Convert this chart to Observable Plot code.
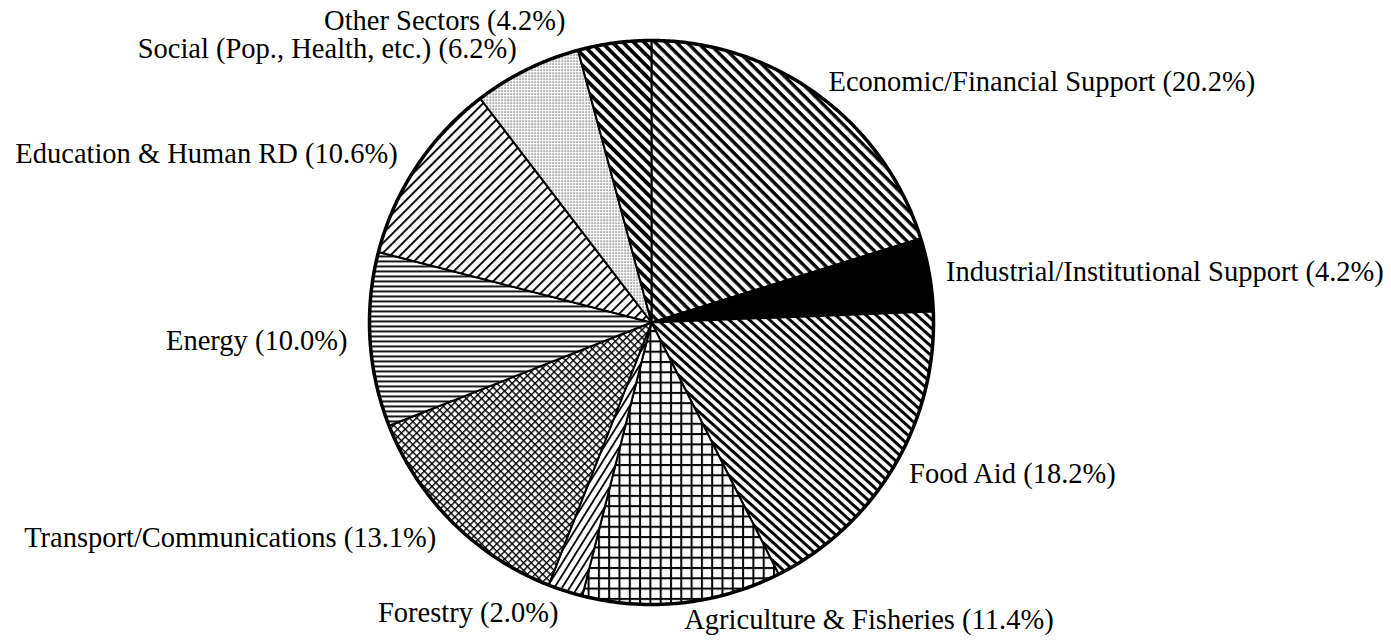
<!DOCTYPE html>
<html><head><meta charset="utf-8">
<script src="https://cdn.jsdelivr.net/npm/d3@7"></script>
<script src="https://cdn.jsdelivr.net/npm/@observablehq/plot@0.6"></script>
<style>html,body{margin:0;padding:0;background:#fff;overflow:hidden}</style>
</head><body><div id="chart"></div>
<script>
// ---- data ----
const sectors = ["Economic/Financial Support", "Industrial/Institutional Support", "Food Aid",
  "Agriculture & Fisheries", "Forestry", "Transport/Communications", "Energy",
  "Education & Human RD", "Social (Pop., Health, etc.)", "Other Sectors"];
const shares = [20.2, 4.2, 18.2, 11.4, 2.0, 13.1, 10.0, 10.6, 6.2, 4.2];
const fills = ["url(#pEcon)", "black", "url(#pFood)", "url(#pGrid)", "url(#pForest)",
  "url(#pCross)", "url(#pHoriz)", "url(#pEdu)", "url(#pDots)", "url(#pOther)"];

// ---- layout ----
const W = 1391, H = 643, cx = 651, cy = 322, R = 282;
const total = d3.sum(shares);
let acc = 0;
const slices = sectors.map((name, i) => {
  const a0 = acc / total * 2 * Math.PI;
  acc += shares[i];
  const a1 = acc / total * 2 * Math.PI;
  return {name, share: shares[i], a0, a1, mid: (a0 + a1) / 2, fill: fills[i],
    label: `${name} (${shares[i].toFixed(1)}%)`};
});
function slicePoints(s) {
  const n = Math.max(2, Math.ceil((s.a1 - s.a0) / (Math.PI / 360)));
  const pts = [{x: 0, y: 0}];
  for (let k = 0; k <= n; k++) {
    const a = s.a0 + (s.a1 - s.a0) * k / n;
    pts.push({x: Math.sin(a), y: Math.cos(a)});
  }
  pts.push({x: 0, y: 0});
  return pts;
}
const circle = d3.range(0, 721).map(k => ({x: Math.sin(k * Math.PI / 360), y: Math.cos(k * Math.PI / 360)}));
const labels = slices.map(s => {
  const LR = Math.sin(s.mid) >= 0 ? 1.06 : 1.08;
  return {...s, lx: LR * Math.sin(s.mid), ly: LR * Math.cos(s.mid)};
});
const font = {fontSize: 28.5, fontFamily: "Liberation Serif, Times New Roman, serif", fill: "black"};

const svg = Plot.plot({
  width: W, height: H, margin: 0,
  x: {domain: [-cx / R, (W - cx) / R], axis: null},
  y: {domain: [-(H - cy) / R, cy / R], axis: null},
  style: {background: "white"},
  marks: [
    ...slices.map(s => Plot.line(slicePoints(s), {x: "x", y: "y", fill: s.fill, stroke: "black", strokeWidth: 2, strokeLinejoin: "round"})),
    Plot.line(circle, {x: "x", y: "y", stroke: "black", strokeWidth: 3.5}),
    Plot.text(labels.filter(d => Math.sin(d.mid) >= 0), {x: "lx", y: "ly", text: "label", textAnchor: "start", ...font}),
    Plot.text(labels.filter(d => Math.sin(d.mid) < 0 && d.name !== "Other Sectors"), {x: "lx", y: "ly", text: "label", textAnchor: "end", ...font}),
    Plot.text(labels.filter(d => d.name === "Other Sectors"), {x: "lx", y: "ly", text: "label", textAnchor: "end", dx: -46, ...font})
  ]
});

// ---- patterns ----
const defs = d3.select(svg).insert("defs", ":first-child");
function stripes(id, spacing, width, angle) {
  const p = defs.append("pattern").attr("id", id).attr("patternUnits", "userSpaceOnUse")
    .attr("width", spacing).attr("height", spacing).attr("patternTransform", `rotate(${angle})`);
  p.append("rect").attr("width", spacing).attr("height", spacing).attr("fill", "white");
  p.append("rect").attr("width", spacing).attr("height", width).attr("fill", "black");
}
function grid(id, spacing, width, angle) {
  const p = defs.append("pattern").attr("id", id).attr("patternUnits", "userSpaceOnUse")
    .attr("width", spacing).attr("height", spacing).attr("patternTransform", `rotate(${angle})`);
  p.append("rect").attr("width", spacing).attr("height", spacing).attr("fill", "white");
  p.append("rect").attr("width", spacing).attr("height", width).attr("fill", "black");
  p.append("rect").attr("width", width).attr("height", spacing).attr("fill", "black");
}
stripes("pEcon", 7.5, 3.4, 45);
stripes("pOther", 7.5, 3.8, 45);
stripes("pFood", 6.8, 3, 42);
stripes("pForest", 6.5, 1.8, -58);
stripes("pEdu", 7, 1.9, -45);
stripes("pHoriz", 5, 1.8, 0);
grid("pGrid", 10.3, 2, 0);
grid("pCross", 5.4, 1.4, 45);
const dp = defs.append("pattern").attr("id", "pDots").attr("patternUnits", "userSpaceOnUse")
  .attr("width", 3).attr("height", 3);
dp.append("rect").attr("width", 3).attr("height", 3).attr("fill", "white");
dp.append("rect").attr("width", 1.2).attr("height", 1.2).attr("fill", "#222");

document.getElementById("chart").appendChild(svg);
</script>
</body></html>
